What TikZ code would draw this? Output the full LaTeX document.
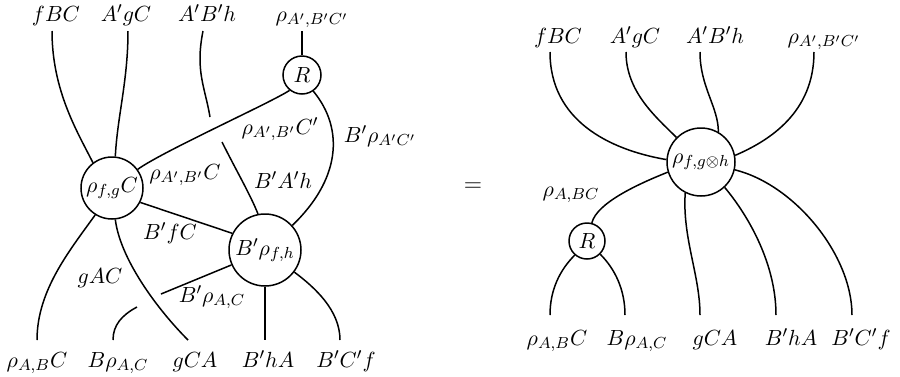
\documentclass[tikz,border=0pt,11pt]{standalone}
\DeclareMathSizes{10.95}{10.95}{8.5}{6.5}

\begin{document}
\begin{tikzpicture}[x=0.5pt,y=-0.5pt,line width=0.75pt,
    blob/.style={circle,draw,inner sep=0pt},
    lbl/.style={inner sep=0pt,anchor=base}]
    \useasboundingbox (0,0) rectangle (900,376);
    % left side
    \node[blob,minimum size=31pt] (lf) at (112,188) {$\rho_{f,g}C$};
    \node[blob,minimum size=36pt] (bp) at (265,250) {$B'\rho_{f,h}$};
    \node[blob,minimum size=19pt] (rl) at (302,75) {$R$};
    \node[lbl] (lt1) at (56,21) {$fBC$};
    \node[lbl] (lt2) at (126,21) {$A'gC$};
    \node[lbl] (lt3) at (207,21) {$A'B'h$};
    \node[lbl] (lt4) at (312,21) {$\rho_{A',B'C'}$};
    \node[lbl] (lb1) at (37,367) {$\rho_{A,B}C$};
    \node[lbl] (lb2) at (118,367) {$B\rho_{A,C}$};
    \node[lbl] (lb3) at (195,367) {$gCA$};
    \node[lbl] (lb4) at (268,367) {$B'hA$};
    \node[lbl] (lb5) at (346,367) {$B'C'f$};
    \coordinate (le1) at (52,31);
    \coordinate (le2) at (128,31);
    \coordinate (le3) at (203,31);
    \coordinate (lc1) at (210,117);
    \coordinate (lc2) at (222,142);
    \coordinate (lc3) at (161,294);
    \coordinate (lc4) at (137,307);
    \coordinate (lf1) at (37,340);
    \coordinate (lf2) at (113,340);
    \coordinate (lf3) at (188,340);
    \coordinate (lf4) at (265,340);
    \coordinate (lf5) at (340,340);
    \draw (le1) .. controls +(0,60) and +(-15,-30) .. (lf.127);
    \draw (le2) .. controls +(0,50) and +(2,-40) .. (lf.84);
    \draw (le3) .. controls +(-8,40) and +(-5,-30) .. (lc1);
    \draw (lc2) .. controls +(15,30) and +(-8,-20) .. (bp.101);
    \draw (rl.north) -- (rl |- le1);
    \draw (lf.36) .. controls +(25,-18) and +(-18,12) .. (rl.-129);
    \draw (rl.-55) .. controls +(32,39) and +(47,-45) .. (bp.42);
    \draw (lf.-27) -- (bp.153);
    \draw (lf.-84) .. controls +(5,40) and +(-30,-30) .. (lf3);
    \draw (lf.-122) .. controls +(-25,35) and +(0,-50) .. (lf1);
    \draw (bp.-156) -- (lc3);
    \draw (lc4) .. controls +(-15,8) and +(0,-15) .. (lf2);
    \draw (bp.south) -- (lf4);
    \draw (bp.-37) .. controls +(20,15) and +(0,-30) .. (lf5);
    \node (l1) at (280,129) {$\rho_{A',B'}C'$};
    \node (l2) at (185,175) {$\rho_{A',B'}C$};
    \node (l3) at (283,180) {$B'A'h$};
    \node (l4) at (380,136) {$B'\rho_{A'C'}$};
    \node (l5) at (170,233) {$B'fC$};
    \node (l6) at (100,278) {$gAC$};
    \node (l7) at (212,297) {$B'\rho_{A,C}$};
    \node (eq) at (473,187) {\large$=$};
    % right side
    \node[blob,minimum size=34pt] (rn) at (701,162) {$\rho_{f,g\otimes h}$};
    \node[blob,minimum size=18pt] (rr) at (587,241) {$R$};
    \node[lbl] (rt1) at (558,43) {$fBC$};
    \node[lbl] (rt2) at (635,43) {$A'gC$};
    \node[lbl] (rt3) at (715,43) {$A'B'h$};
    \node[lbl] (rt4) at (824,43) {$\rho_{A',B'C'}$};
    \node[lbl] (rb1) at (557,345) {$\rho_{A,B}C$};
    \node[lbl] (rb2) at (637,345) {$B\rho_{A,C}$};
    \node[lbl] (rb3) at (715,345) {$gCA$};
    \node[lbl] (rb4) at (791,345) {$B'hA$};
    \node[lbl] (rb5) at (861,345) {$B'C'f$};
    \coordinate (re1) at (550,52);
    \coordinate (re2) at (626,52);
    \coordinate (re3) at (700,52);
    \coordinate (re4) at (814,52);
    \coordinate (rf1) at (550,315);
    \coordinate (rf2) at (625,315);
    \coordinate (rf3) at (700,315);
    \coordinate (rf4) at (776,315);
    \coordinate (rf5) at (852,315);
    \draw (re1) .. controls +(0,68) and +(-58,-10) .. (rn.176);
    \draw (re2) .. controls +(0,40) and +(-20,-20) .. (rn.135);
    \draw (re3) .. controls +(0,35) and +(0,-25) .. (rn.60);
    \draw (re4) .. controls +(0,60) and +(35,-15) .. (rn.11);
    \draw (rn.-163) .. controls +(-30,12) and +(5,-20) .. (rr.75);
    \draw (rn.-117) .. controls +(-3,45) and +(0,-40) .. (rf3);
    \draw (rn.-47) .. controls +(25,30) and +(0,-50) .. (rf4);
    \draw (rn.-13) .. controls +(60,15) and +(0,-60) .. (rf5);
    \draw (rr.-131) .. controls +(-15,15) and +(0,-25) .. (rf1);
    \draw (rr.-45) .. controls +(15,15) and +(0,-25) .. (rf2);
    \node (r1) at (571,195) {$\rho_{A,BC}$};
  \end{tikzpicture}
\end{document}
